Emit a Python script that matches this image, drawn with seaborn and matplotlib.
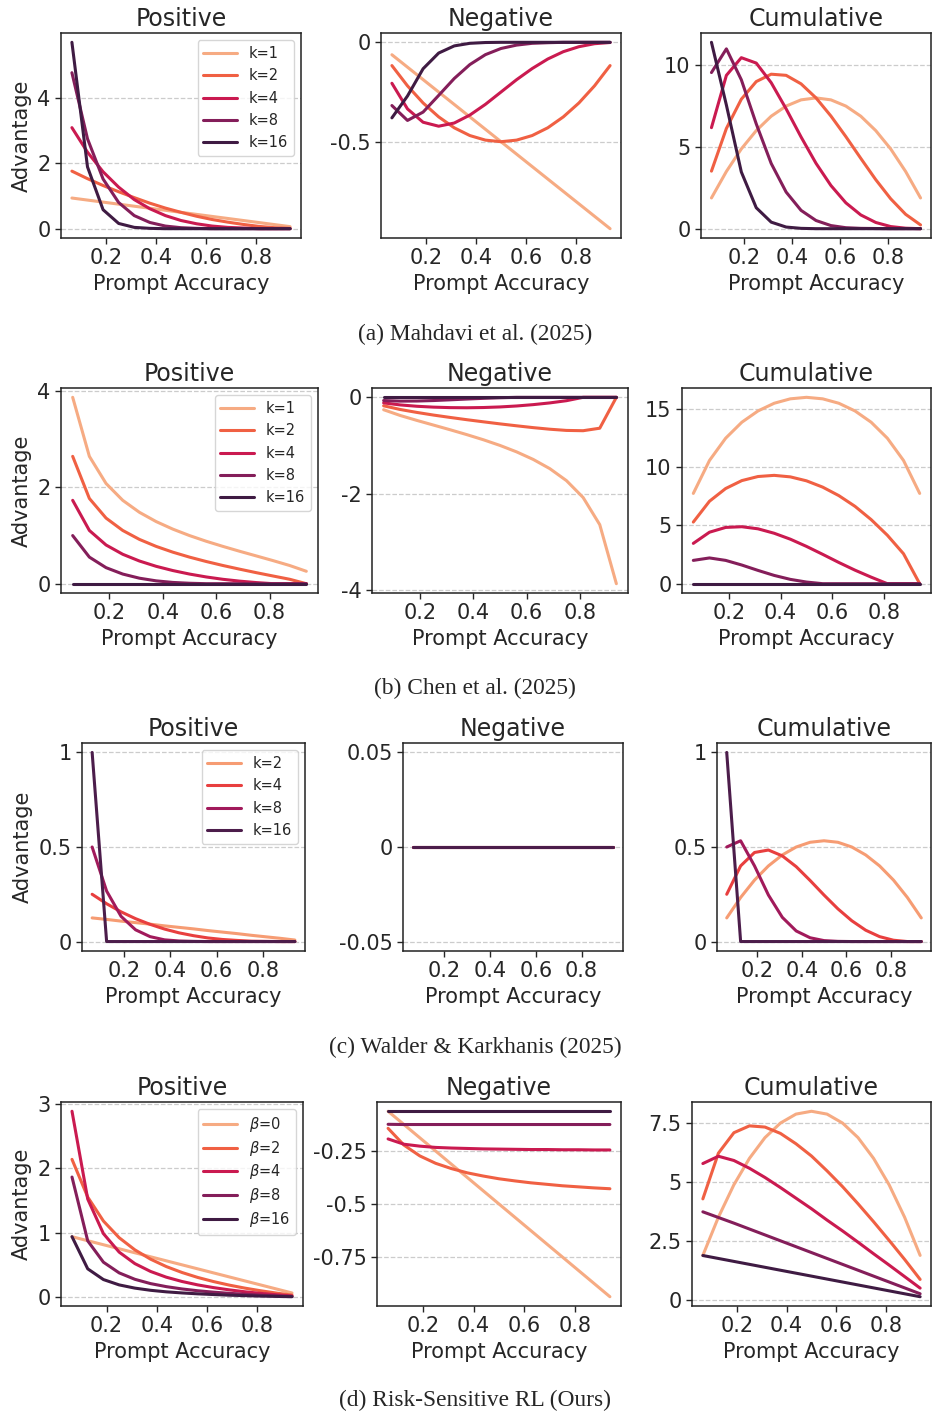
import matplotlib
matplotlib.use("Agg")
import matplotlib.pyplot as plt
from matplotlib.ticker import FuncFormatter
import seaborn as sns

# prompt accuracy of a 16-sample group (1/16 ... 15/16)
accuracy = [0.0625, 0.125, 0.1875, 0.25, 0.3125, 0.375, 0.4375, 0.5,
            0.5625, 0.625, 0.6875, 0.75, 0.8125, 0.875, 0.9375]

k_labels = ["k=1", "k=2", "k=4", "k=8", "k=16"]
walder_labels = ["k=2", "k=4", "k=8", "k=16"]
beta_labels = [r"$\beta$=0", r"$\beta$=2", r"$\beta$=4", r"$\beta$=8", r"$\beta$=16"]

z = [0.0] * 15

# (a) Mahdavi et al.
mahdavi_pos = [
    [0.9375, 0.875, 0.8125, 0.75, 0.6875, 0.625, 0.5625, 0.5, 0.4375, 0.375, 0.3125, 0.25, 0.1875, 0.125, 0.0625],
    [1.76, 1.53, 1.32, 1.13, 0.95, 0.78, 0.63, 0.50, 0.38, 0.28, 0.20, 0.13, 0.07, 0.03, 0.01],
    [3.09, 2.34, 1.74, 1.27, 0.89, 0.61, 0.40, 0.25, 0.15, 0.08, 0.04, 0.02, 0.00, 0.00, 0.00],
    [4.77, 2.75, 1.52, 0.80, 0.40, 0.19, 0.08, 0.03, 0.01, 0.00, 0.00, 0.00, 0.00, 0.00, 0.00],
    [5.70, 1.89, 0.58, 0.16, 0.04, 0.01, 0.00, 0.00, 0.00, 0.00, 0.00, 0.00, 0.00, 0.00, 0.00],
]
mahdavi_neg = [
    [-0.0625, -0.125, -0.1875, -0.25, -0.3125, -0.375, -0.4375, -0.5, -0.5625, -0.625, -0.6875, -0.75, -0.8125, -0.875, -0.9375],
    [-0.117, -0.219, -0.305, -0.375, -0.430, -0.469, -0.492, -0.500, -0.492, -0.469, -0.430, -0.375, -0.305, -0.219, -0.117],
    [-0.206, -0.335, -0.402, -0.422, -0.406, -0.366, -0.312, -0.250, -0.188, -0.132, -0.084, -0.047, -0.022, -0.007, -0.001],
    [-0.318, -0.393, -0.351, -0.267, -0.182, -0.112, -0.062, -0.031, -0.014, -0.005, -0.002, 0.00, 0.00, 0.00, 0.00],
    [-0.380, -0.270, -0.133, -0.054, -0.018, -0.005, -0.001, 0.00, 0.00, 0.00, 0.00, 0.00, 0.00, 0.00, 0.00],
]
mahdavi_cum = [
    [1.88, 3.50, 4.88, 6.00, 6.88, 7.50, 7.88, 8.00, 7.88, 7.50, 6.88, 6.00, 4.88, 3.50, 1.88],
    [3.52, 6.13, 7.92, 9.00, 9.45, 9.38, 8.86, 8.00, 6.89, 5.63, 4.30, 3.00, 1.83, 0.88, 0.23],
    [6.18, 9.38, 10.46, 10.13, 8.93, 7.33, 5.61, 4.00, 2.64, 1.58, 0.84, 0.38, 0.13, 0.03, 0.00],
    [9.55, 11.00, 9.11, 6.41, 3.99, 2.24, 1.12, 0.50, 0.19, 0.06, 0.02, 0.01, 0.00, 0.00, 0.00],
    [11.40, 7.56, 3.47, 1.28, 0.40, 0.10, 0.02, 0.00, 0.00, 0.00, 0.00, 0.00, 0.00, 0.00, 0.00],
]

# (b) Chen et al.
chen_pos = [
    [3.873, 2.646, 2.082, 1.732, 1.483, 1.291, 1.134, 1.000, 0.882, 0.775, 0.674, 0.577, 0.480, 0.378, 0.258],
    [2.646, 1.771, 1.363, 1.106, 0.920, 0.775, 0.655, 0.552, 0.461, 0.378, 0.302, 0.229, 0.160, 0.092, 0.000],
    [1.732, 1.106, 0.804, 0.611, 0.471, 0.361, 0.273, 0.200, 0.140, 0.091, 0.053, 0.023, 0.000, 0.000, 0.000],
    [1.000, 0.552, 0.333, 0.200, 0.114, 0.059, 0.026, 0.009, 0.000, 0.000, 0.000, 0.000, 0.000, 0.000, 0.000],
    z,
]
chen_neg = [
    [-0.258, -0.378, -0.480, -0.577, -0.674, -0.775, -0.882, -1.000, -1.134, -1.291, -1.483, -1.732, -2.082, -2.646, -3.873],
    [-0.176, -0.253, -0.314, -0.369, -0.418, -0.465, -0.509, -0.552, -0.592, -0.630, -0.663, -0.688, -0.694, -0.642, 0.000],
    [-0.116, -0.158, -0.186, -0.204, -0.214, -0.217, -0.212, -0.200, -0.180, -0.152, -0.116, -0.070, 0.000, 0.000, 0.000],
    [-0.067, -0.079, -0.077, -0.067, -0.052, -0.036, -0.021, -0.009, 0.000, 0.000, 0.000, 0.000, 0.000, 0.000, 0.000],
    z,
]
chen_cum = [
    [7.75, 10.58, 12.49, 13.86, 14.83, 15.49, 15.87, 16.00, 15.87, 15.49, 14.83, 13.86, 12.49, 10.58, 7.75],
    [5.29, 7.08, 8.17, 8.85, 9.20, 9.30, 9.17, 8.83, 8.29, 7.56, 6.64, 5.50, 4.16, 2.57, 0.00],
    [3.46, 4.42, 4.83, 4.89, 4.71, 4.33, 3.82, 3.20, 2.52, 1.82, 1.16, 0.56, 0.00, 0.00, 0.00],
    [2.00, 2.21, 2.00, 1.60, 1.14, 0.71, 0.37, 0.14, 0.00, 0.00, 0.00, 0.00, 0.00, 0.00, 0.00],
    z,
]

# (c) Walder & Karkhanis
walder_pos = [
    [0.125, 0.117, 0.108, 0.100, 0.092, 0.083, 0.075, 0.067, 0.058, 0.050, 0.042, 0.033, 0.025, 0.017, 0.008],
    [0.250, 0.200, 0.157, 0.121, 0.091, 0.066, 0.046, 0.031, 0.019, 0.011, 0.006, 0.002, 0.001, 0.000, 0.000],
    [0.500, 0.267, 0.133, 0.062, 0.026, 0.009, 0.003, 0.001, 0.000, 0.000, 0.000, 0.000, 0.000, 0.000, 0.000],
    [1.000, 0.000, 0.000, 0.000, 0.000, 0.000, 0.000, 0.000, 0.000, 0.000, 0.000, 0.000, 0.000, 0.000, 0.000],
]
walder_neg = [z, z, z, z]
walder_cum = [
    [0.125, 0.233, 0.325, 0.400, 0.458, 0.500, 0.525, 0.533, 0.525, 0.500, 0.458, 0.400, 0.325, 0.233, 0.125],
    [0.250, 0.400, 0.471, 0.484, 0.453, 0.396, 0.323, 0.246, 0.173, 0.110, 0.060, 0.026, 0.007, 0.000, 0.000],
    [0.500, 0.533, 0.400, 0.246, 0.128, 0.056, 0.020, 0.005, 0.001, 0.000, 0.000, 0.000, 0.000, 0.000, 0.000],
    [1.000, 0.000, 0.000, 0.000, 0.000, 0.000, 0.000, 0.000, 0.000, 0.000, 0.000, 0.000, 0.000, 0.000, 0.000],
]

# (d) Risk-Sensitive RL
risk_pos = [
    [0.9375, 0.875, 0.8125, 0.75, 0.6875, 0.625, 0.5625, 0.5, 0.4375, 0.375, 0.3125, 0.25, 0.1875, 0.125, 0.0625],
    [2.140, 1.554, 1.181, 0.922, 0.733, 0.588, 0.473, 0.381, 0.304, 0.240, 0.185, 0.138, 0.097, 0.061, 0.029],
    [2.888, 1.523, 0.985, 0.698, 0.519, 0.397, 0.308, 0.241, 0.188, 0.146, 0.111, 0.081, 0.056, 0.035, 0.016],
    [1.865, 0.873, 0.541, 0.375, 0.275, 0.208, 0.161, 0.125, 0.097, 0.075, 0.057, 0.042, 0.029, 0.018, 0.008],
    [0.938, 0.438, 0.271, 0.188, 0.138, 0.104, 0.080, 0.063, 0.049, 0.038, 0.028, 0.021, 0.014, 0.009, 0.004],
]
risk_neg = [
    [-0.0625, -0.125, -0.1875, -0.25, -0.3125, -0.375, -0.4375, -0.5, -0.5625, -0.625, -0.6875, -0.75, -0.8125, -0.875, -0.9375],
    [-0.143, -0.222, -0.273, -0.308, -0.333, -0.353, -0.368, -0.381, -0.391, -0.400, -0.407, -0.414, -0.419, -0.424, -0.428],
    [-0.193, -0.218, -0.227, -0.233, -0.236, -0.238, -0.240, -0.241, -0.242, -0.243, -0.243, -0.244, -0.244, -0.245, -0.245],
    [-0.124, -0.125, -0.125, -0.125, -0.125, -0.125, -0.125, -0.125, -0.125, -0.125, -0.125, -0.125, -0.125, -0.125, -0.125],
    [-0.0625] * 15,
]
risk_cum = [
    [1.88, 3.50, 4.88, 6.00, 6.88, 7.50, 7.88, 8.00, 7.88, 7.50, 6.88, 6.00, 4.88, 3.50, 1.88],
    [4.28, 6.22, 7.09, 7.38, 7.33, 7.06, 6.62, 6.10, 5.47, 4.80, 4.07, 3.31, 2.52, 1.71, 0.86],
    [5.78, 6.09, 5.91, 5.58, 5.19, 4.76, 4.31, 3.86, 3.38, 2.92, 2.44, 1.95, 1.47, 0.98, 0.49],
    [3.73, 3.49, 3.25, 3.00, 2.75, 2.50, 2.25, 2.00, 1.75, 1.50, 1.25, 1.00, 0.75, 0.50, 0.25],
    [1.875, 1.75, 1.625, 1.50, 1.375, 1.25, 1.125, 1.00, 0.875, 0.75, 0.625, 0.50, 0.375, 0.25, 0.125],
]

captions = ["(a) Mahdavi et al. (2025)", "(b) Chen et al. (2025)",
            "(c) Walder & Karkhanis (2025)", "(d) Risk-Sensitive RL (Ours)"]

W, H = 933, 1414

sns.set_theme(style="ticks")
plt.rcParams["font.family"] = ["DejaVu Sans"]

fig = plt.figure(figsize=(W / 100, H / 100), dpi=100)


def add_ax(l, t, r, b):
    return fig.add_axes([l / W, 1 - b / H, (r - l) / W, (b - t) / H])


def draw_panel(ax, series, labels, palette, title, yticks, ylim=None,
               ylabel=False, legend=False, spacing=0.5):
    for vals, lab, col in zip(series, labels, palette):
        sns.lineplot(x=accuracy, y=vals, color=col, label=lab, linewidth=2.2, ax=ax)
    ax.set_title(title, fontsize=17, pad=5)
    ax.set_xlabel("Prompt Accuracy", fontsize=15)
    ax.set_ylabel("Advantage" if ylabel else "", fontsize=15)
    ax.set_xticks([0.2, 0.4, 0.6, 0.8])
    ax.set_yticks(yticks)
    if ylim is not None:
        ax.set_ylim(*ylim)
    ax.yaxis.set_major_formatter(FuncFormatter(lambda v, _: f"{v:g}"))
    ax.tick_params(labelsize=15, length=4, width=1)
    ax.grid(axis="y", linestyle="--", color="#cccccc", linewidth=0.9)
    ax.set_axisbelow(True)
    for s in ax.spines.values():
        s.set_color("#222222")
        s.set_linewidth(1.1)
    if legend:
        ax.legend(loc="upper right", fontsize=10.5, frameon=True,
                  handlelength=2.3, borderaxespad=0.5, labelspacing=spacing)
    else:
        leg = ax.get_legend()
        if leg is not None:
            leg.remove()


pal5 = sns.color_palette("rocket_r", 5)
pal4 = sns.color_palette("rocket_r", 4)

rows = [
    dict(data=(mahdavi_pos, mahdavi_neg, mahdavi_cum), labels=k_labels, pal=pal5,
         rects=[(61, 33, 301, 238), (381, 33, 621, 238), (701, 33, 931, 238)],
         ticks=([0, 2, 4], [0, -0.5], [0, 5, 10]), ylims=(None, None, None),
         cap_y=334, spacing=0.5),
    dict(data=(chen_pos, chen_neg, chen_cum), labels=k_labels, pal=pal5,
         rects=[(61, 388, 318, 593), (372, 388, 628, 593), (682, 388, 931, 593)],
         ticks=([0, 2, 4], [0, -2, -4], [0, 5, 10, 15]), ylims=(None, None, None),
         cap_y=688, spacing=0.5),
    dict(data=(walder_pos, walder_neg, walder_cum), labels=walder_labels, pal=pal4,
         rects=[(82, 743, 305, 951), (403, 743, 623, 951), (717, 743, 931, 951)],
         ticks=([0, 0.5, 1], [-0.05, 0, 0.05], [0, 0.5, 1]),
         ylims=(None, (-0.055, 0.055), None), cap_y=1047, spacing=0.5),
    dict(data=(risk_pos, risk_neg, risk_cum), labels=beta_labels, pal=pal5,
         rects=[(61, 1102, 303, 1306), (377, 1102, 621, 1306), (692, 1102, 931, 1306)],
         ticks=([0, 1, 2, 3], [-0.25, -0.5, -0.75], [0, 2.5, 5, 7.5]),
         ylims=(None, None, None), cap_y=1400, spacing=0.32),
]

titles = ["Positive", "Negative", "Cumulative"]

for row, cap in zip(rows, captions):
    for j in range(3):
        ax = add_ax(*row["rects"][j])
        draw_panel(ax, row["data"][j], row["labels"], row["pal"], titles[j],
                   row["ticks"][j], ylim=row["ylims"][j],
                   ylabel=(j == 0), legend=(j == 0), spacing=row["spacing"])
    fig.text(475 / W, 1 - row["cap_y"] / H, cap, ha="center", va="center",
             fontsize=16.8, family=["Liberation Serif", "DejaVu Serif"])

fig.savefig("out.png", dpi=100)
